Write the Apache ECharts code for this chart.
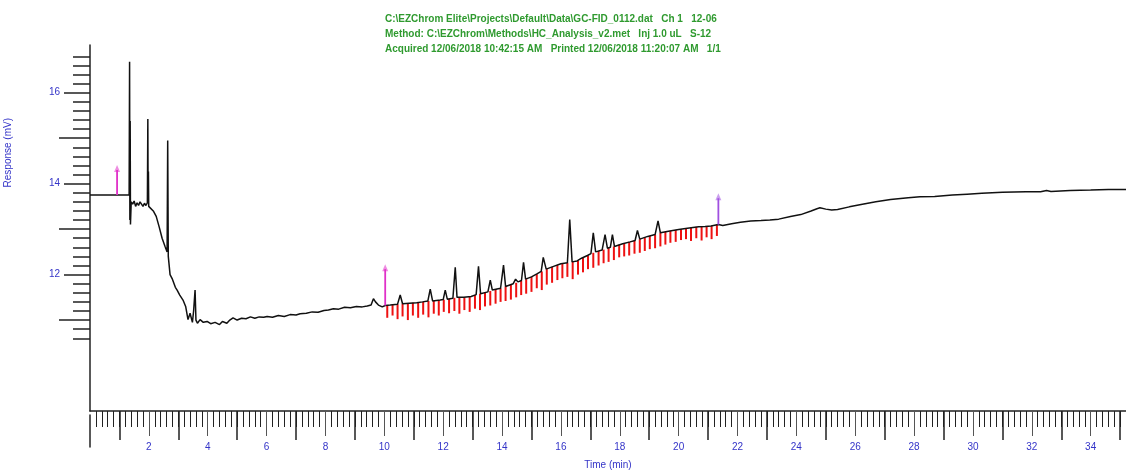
<!DOCTYPE html>
<html><head><meta charset="utf-8">
<script src="https://cdn.jsdelivr.net/npm/echarts@6/dist/echarts.min.js"></script>
<style>html,body{margin:0;padding:0;background:#fff}#c{width:1126px;height:475px}</style>
</head><body><div id="c"></div>
<script>
// ---- data ----
const traceT = [0.00,1.33,1.345,1.355,1.365,1.375,1.40,1.45,1.50,1.55,1.60,1.65,1.70,1.75,1.80,1.85,1.90,1.95,1.965,1.975,1.985,1.995,2.05,2.15,2.25,2.35,2.45,2.55,2.62,2.64,2.66,2.72,2.80,2.90,2.96,3.05,3.16,3.25,3.33,3.40,3.48,3.52,3.57,3.60,3.65,3.74,3.85,3.98,4.10,4.25,4.40,4.50,4.65,4.75,4.86,5.00,5.15,5.30,5.45,5.60,5.75,5.90,6.02,6.20,6.40,6.60,6.80,7.00,7.14,7.35,7.55,7.75,7.95,8.10,8.27,8.45,8.65,8.85,9.05,9.25,9.42,9.55,9.63,9.70,9.80,9.93,10.03,10.20,10.45,10.54,10.62,10.85,11.10,11.30,11.48,11.56,11.64,11.90,12.00,12.07,12.14,12.33,12.41,12.47,12.70,12.95,13.12,13.20,13.27,13.52,13.60,13.67,13.95,14.05,14.12,14.38,14.46,14.54,14.66,14.73,14.80,15.00,15.20,15.33,15.40,15.50,15.75,16.00,16.22,16.30,16.38,16.55,16.70,16.90,17.02,17.10,17.18,17.40,17.50,17.58,17.68,17.75,17.82,18.10,18.35,18.52,18.60,18.68,18.95,19.20,19.30,19.38,19.70,20.00,20.30,20.55,20.60,20.68,20.90,21.10,21.35,21.50,21.80,22.10,22.45,22.80,23.10,23.40,23.80,24.15,24.50,24.70,24.80,25.00,25.20,25.40,25.80,26.20,26.70,27.20,27.80,28.20,28.70,29.30,29.80,30.30,31.00,31.80,32.30,32.50,32.65,33.30,34.00,34.60,35.20];
const traceV = [13.75,13.75,16.68,13.20,15.38,13.10,13.60,13.55,13.62,13.50,13.58,13.52,13.60,13.55,13.50,13.57,13.52,13.58,15.42,13.60,14.27,13.50,13.48,13.40,13.28,13.05,12.80,12.62,12.50,14.95,12.40,12.00,11.90,11.72,11.66,11.55,11.44,11.30,11.01,11.15,10.95,11.20,11.66,11.00,10.93,11.01,10.95,10.97,10.92,10.95,10.90,10.97,10.93,11.00,11.05,11.00,11.04,11.03,11.07,11.04,11.07,11.06,11.08,11.06,11.10,11.08,11.12,11.11,11.14,11.15,11.18,11.17,11.21,11.22,11.25,11.24,11.28,11.27,11.30,11.29,11.31,11.33,11.47,11.40,11.33,11.29,11.32,11.33,11.35,11.55,11.36,11.37,11.38,11.40,11.42,11.68,11.42,11.44,11.45,11.66,11.46,11.48,12.16,11.50,11.50,11.52,11.56,12.18,11.58,11.62,11.88,11.66,11.70,12.21,11.74,11.80,11.90,11.84,11.87,12.27,11.90,11.95,12.02,12.07,12.38,12.12,12.18,12.24,12.26,13.21,12.28,12.30,12.36,12.42,12.46,12.92,12.50,12.54,12.88,12.58,12.60,12.88,12.62,12.68,12.72,12.75,12.97,12.78,12.84,12.88,13.18,12.92,12.96,12.99,13.02,13.04,13.07,13.05,13.06,13.07,13.10,13.08,13.12,13.15,13.18,13.19,13.20,13.22,13.28,13.32,13.40,13.45,13.47,13.44,13.42,13.43,13.49,13.54,13.60,13.65,13.69,13.71,13.72,13.75,13.77,13.79,13.81,13.82,13.82,13.85,13.83,13.85,13.86,13.87,13.87];

// integration drop lines (red)
const redT   = [10.10,10.28,10.45,10.62,10.80,10.97,11.15,11.32,11.50,11.68,11.85,12.02,12.20,12.38,12.55,12.72,12.90,13.08,13.25,13.42,13.60,13.78,13.95,14.12,14.30,14.48,14.65,14.82,15.00,15.18,15.35,15.52,15.70,15.88,16.05,16.22,16.40,16.58,16.75,16.92,17.10,17.28,17.45,17.62,17.80,17.98,18.15,18.32,18.50,18.68,18.85,19.02,19.20,19.38,19.55,19.72,19.90,20.08,20.25,20.42,20.60,20.78,20.95,21.12,21.30];
const redTop = [11.33,11.34,11.35,11.36,11.37,11.38,11.39,11.40,11.42,11.42,11.44,11.45,11.47,11.49,11.50,11.50,11.52,11.55,11.58,11.60,11.64,11.68,11.70,11.74,11.78,11.82,11.86,11.90,11.95,12.01,12.07,12.12,12.17,12.21,12.24,12.26,12.28,12.31,12.37,12.42,12.48,12.52,12.55,12.59,12.62,12.66,12.69,12.72,12.75,12.78,12.82,12.85,12.88,12.92,12.94,12.96,12.98,13.00,13.02,13.03,13.05,13.05,13.06,13.07,13.10];
const redBot = [11.05,11.10,11.02,11.08,11.00,11.10,11.05,11.12,11.06,11.14,11.10,11.18,11.15,11.20,11.14,11.22,11.18,11.25,11.22,11.30,11.32,11.36,11.40,11.42,11.45,11.50,11.55,11.58,11.62,11.70,11.66,11.78,11.82,11.88,11.92,11.95,11.90,12.00,12.05,12.12,12.15,12.20,12.25,12.28,12.32,12.38,12.40,12.42,12.46,12.48,12.52,12.56,12.58,12.62,12.66,12.70,12.72,12.76,12.78,12.74,12.80,12.75,12.82,12.78,12.85];

// event markers
const eventT    = [0.92, 10.03, 21.35];
const eventBase = [13.75, 11.32, 13.10];
const eventTop  = [14.30, 12.12, 13.68];
const eventColor = ['#e030c8', '#e030c8', '#a050e0'];

// tick labels
const xLabelValues = [2,4,6,8,10,12,14,16,18,20,22,24,26,28,30,32,34];
const xOddValues   = [1,3,5,7,9,11,13,15,17,19,21,23,25,27,29,31,33,35];
const yLabelValues = [12,14,16];
const yOddValues   = [11,13,15];

const headerLines = [
  'C:\\EZChrom Elite\\Projects\\Default\\Data\\GC-FID_0112.dat   Ch 1   12-06',
  'Method: C:\\EZChrom\\Methods\\HC_Analysis_v2.met   Inj 1.0 uL   S-12',
  'Acquired 12/06/2018 10:42:15 AM   Printed 12/06/2018 11:20:07 AM   1/1'
];

// ---- minor tick positions ----
const xMinor = []; for (let k = 1; k <= 175; k++) xMinor.push(+(k * 0.2).toFixed(2));
const yMinor = []; for (let k = 53; k <= 84; k++) yMinor.push(+(k * 0.2).toFixed(2));

const X_MIN = 0, X_MAX = 35.2, Y_MIN = 9.0, Y_MAX = 17.05;
const BLUE = '#3434c8', AX = '#222';
const FONT = '"Liberation Sans", Arial, sans-serif';

function xAx(extra) {
  return Object.assign({
    type: 'value', gridIndex: 0, position: 'bottom', min: X_MIN, max: X_MAX,
    splitLine: { show: false }, axisLine: { show: false },
    axisLabel: { show: false }, axisTick: { show: false }
  }, extra);
}
function yAx(extra) {
  return Object.assign({
    type: 'value', gridIndex: 0, position: 'left', min: Y_MIN, max: Y_MAX,
    splitLine: { show: false }, axisLine: { show: false },
    axisLabel: { show: false }, axisTick: { show: false }
  }, extra);
}

const chart = echarts.init(document.getElementById('c'), null, { renderer: 'canvas' });
chart.setOption({
  animation: false,
  backgroundColor: '#fff',
  textStyle: { fontFamily: FONT },
  grid: [
    { left: 90, right: 0, top: 45, bottom: 60 },
    { left: 90, right: 0, top: 415, bottom: 28 }
  ],
  graphic: [
    { type: 'text', left: 3, top: 118, rotation: Math.PI / 2,
      style: { text: 'Response (mV)', fill: BLUE, font: '10px ' + FONT } },
    { type: 'text', left: 385, top: 12,
      style: { text: headerLines.join('\n'), fill: '#2f9a2f', font: 'bold 10px ' + FONT, lineHeight: 15 } }
  ],
  xAxis: [
    xAx({ axisLine: { show: true, lineStyle: { color: AX, width: 1.5 } },
          axisTick: { show: true, customValues: xMinor, length: 16, lineStyle: { color: AX, width: 1 } } }),
    xAx({ axisTick: { show: true, customValues: xLabelValues, length: 25, lineStyle: { color: '#555', width: 1 } },
          axisLabel: { show: true, customValues: xLabelValues, color: BLUE, fontSize: 10, margin: 31, fontFamily: FONT },
          name: 'Time (min)', nameLocation: 'middle', nameGap: 49,
          nameTextStyle: { color: BLUE, fontSize: 10, fontFamily: FONT } }),
    xAx({ axisTick: { show: true, customValues: xOddValues, length: 29, lineStyle: { color: AX, width: 1.5 } } }),
    { type: 'value', gridIndex: 1, min: 0, max: 1, show: false }
  ],
  yAxis: [
    yAx({ axisLine: { show: true, lineStyle: { color: AX, width: 1.5 } },
          axisTick: { show: true, customValues: yMinor, length: 17, lineStyle: { color: AX, width: 1.5 } } }),
    yAx({ axisTick: { show: true, customValues: yLabelValues, length: 26, lineStyle: { color: AX, width: 1.5 } },
          axisLabel: { show: true, customValues: yLabelValues, color: BLUE, fontSize: 10, margin: 30, fontFamily: FONT } }),
    yAx({ axisTick: { show: true, customValues: yOddValues, length: 31, lineStyle: { color: AX, width: 1.5 } } }),
    { type: 'value', gridIndex: 1, min: 0, max: 1, splitLine: { show: false },
      axisLine: { show: true, lineStyle: { color: AX, width: 1.5 } },
      axisTick: { show: false }, axisLabel: { show: false } }
  ],
  series: [
    {
      type: 'custom', name: 'drops', xAxisIndex: 0, yAxisIndex: 0, z: 2,
      data: redT.map((t, i) => [t, redTop[i], redBot[i]]),
      encode: { x: 0, y: [1, 2] },
      renderItem: function (params, api) {
        const a = api.coord([api.value(0), api.value(1)]);
        const b = api.coord([api.value(0), api.value(2)]);
        return { type: 'line', shape: { x1: a[0], y1: a[1], x2: b[0], y2: b[1] },
                 style: { stroke: '#ee1111', lineWidth: 2 } };
      }
    },
    {
      type: 'line', name: 'signal', xAxisIndex: 0, yAxisIndex: 0, z: 3,
      data: traceT.map((t, i) => [t, traceV[i]]),
      showSymbol: false, symbol: 'none',
      lineStyle: { color: '#111', width: 1.5 }
    },
    {
      type: 'custom', name: 'events', xAxisIndex: 0, yAxisIndex: 0, z: 4,
      data: eventT.map((t, i) => [t, eventBase[i], eventTop[i], i]),
      encode: { x: 0, y: [1, 2] },
      renderItem: function (params, api) {
        const a = api.coord([api.value(0), api.value(1)]);
        const b = api.coord([api.value(0), api.value(2)]);
        const col = eventColor[api.value(3)];
        return { type: 'group', children: [
          { type: 'line', shape: { x1: a[0], y1: a[1], x2: b[0], y2: b[1] },
            style: { stroke: col, lineWidth: 1.8 } },
          { type: 'polygon', shape: { points: [[b[0] - 3, b[1] + 2], [b[0] + 3, b[1] + 2], [b[0], b[1] - 5]] },
            style: { fill: col, opacity: 0.55 } }
        ] };
      }
    }
  ]
});
</script>
</body></html>
